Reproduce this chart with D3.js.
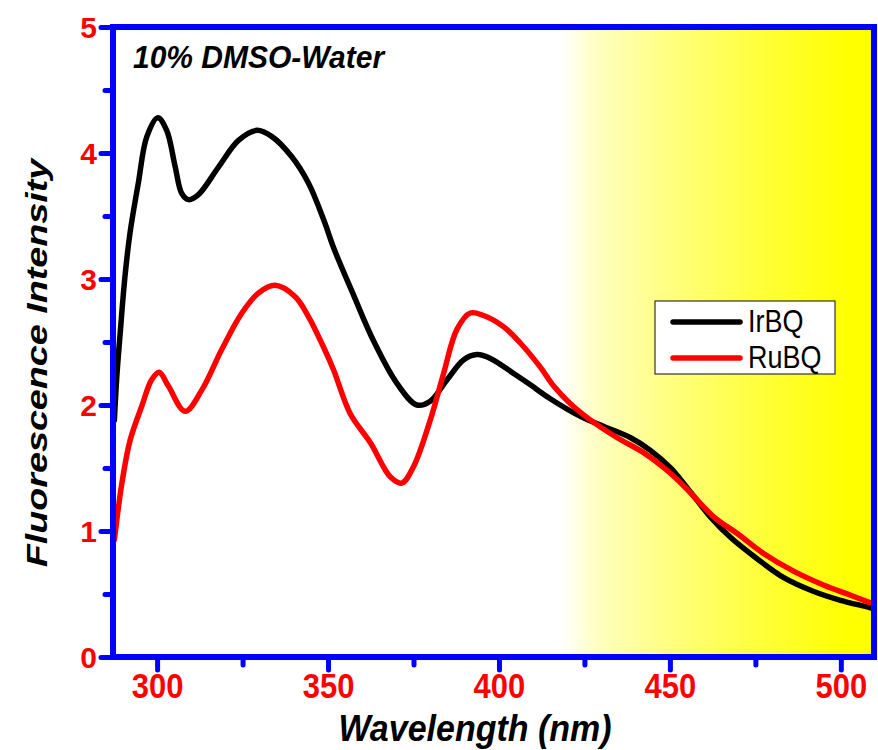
<!DOCTYPE html>
<html>
<head>
<meta charset="utf-8">
<script src="https://cdn.jsdelivr.net/npm/d3@7"></script>
<style>
  html, body { margin: 0; padding: 0; background: #fff; }
  svg { display: block; font-family: "Liberation Sans", Arial, sans-serif; }
</style>
</head>
<body>
<svg id="chart" width="878" height="750"></svg>
<script>
// Axis ranges and tick values
const wavelengthDomain = [287.1, 509.7];
const intensityDomain = [0, 5];
const xMajorTicks = [300, 350, 400, 450, 500];
const xMinorTicks = [325, 375, 425, 475];
const yMajorTicks = [0, 1, 2, 3, 4, 5];
const yMinorTicks = [0.5, 1.5, 2.5, 3.5, 4.5];

// Visible-region band (nm) shaded yellow
const shadedBand = [418, 509.7];

// IrBQ emission spectrum
const irbqWavelength = [287.5, 288.2, 289.2, 290.6, 292.1, 294.5, 297.0, 300.2, 302.8, 305.3,
  307.2, 309.2, 312.1, 318.0, 323.8, 329.2, 333.6, 339.4, 344.3, 349.0,
  351.6, 357.5, 363.3, 370.2, 376.0, 379.9, 384.8, 389.7, 393.6, 397.5,
  404.3, 409.2, 415.0, 423.8, 430.7, 438.5, 444.3, 450.2, 456.0, 461.9,
  467.7, 475.5, 483.3, 492.1, 499.9, 508.7, 509.7];
const irbqIntensity = [1.88, 2.22, 2.57, 3.02, 3.37, 3.76, 4.13, 4.28, 4.18, 3.89,
  3.68, 3.63, 3.67, 3.89, 4.10, 4.18, 4.13, 3.97, 3.76, 3.45,
  3.25, 2.87, 2.51, 2.17, 2.00, 2.03, 2.20, 2.36, 2.40, 2.37,
  2.25, 2.16, 2.05, 1.91, 1.83, 1.74, 1.64, 1.50, 1.31, 1.11,
  0.95, 0.78, 0.63, 0.52, 0.45, 0.39, 0.38];

// RuBQ emission spectrum
const rubqWavelength = [287.5, 289.7, 292.1, 295.5, 298.4, 300.6, 303.3, 308.2, 313.1, 318.9,
  324.8, 329.7, 334.5, 340.4, 344.3, 348.5, 351.6, 356.5, 362.4, 368.2,
  371.6, 375.0, 379.9, 383.8, 387.7, 391.6, 395.5, 401.4, 406.3, 412.1,
  416.0, 420.9, 426.8, 434.6, 442.4, 449.2, 455.1, 462.9, 469.7, 477.5,
  486.3, 495.1, 502.9, 508.7, 509.7];
const rubqIntensity = [0.93, 1.38, 1.72, 1.99, 2.20, 2.26, 2.15, 1.95, 2.12, 2.44,
  2.73, 2.89, 2.95, 2.86, 2.70, 2.47, 2.28, 1.93, 1.70, 1.43,
  1.38, 1.51, 1.88, 2.25, 2.60, 2.73, 2.71, 2.62, 2.49, 2.30,
  2.15, 2.01, 1.88, 1.74, 1.62, 1.48, 1.33, 1.11, 0.98, 0.82,
  0.68, 0.57, 0.49, 0.43, 0.42];

const seriesNames = ["IrBQ", "RuBQ"];
const seriesColors = ["#000000", "#ff0000"];

const W = 878, H = 750;
const margin = { top: 27, right: 4, bottom: 93, left: 113 };
const innerW = W - margin.left - margin.right;
const innerH = H - margin.top - margin.bottom;
const axisBlue = "#0000ff";
const font = "'Liberation Sans', Arial, sans-serif";

const svg = d3.select("#chart");
const g = svg.append("g").attr("transform", `translate(${margin.left},${margin.top})`);

const x = d3.scaleLinear().domain(wavelengthDomain).range([0, innerW]);
const y = d3.scaleLinear().domain(intensityDomain).range([innerH, 0]);

// Yellow gradient band
const defs = svg.append("defs");
const grad = defs.append("linearGradient").attr("id", "visBand")
  .attr("x1", "0%").attr("x2", "100%").attr("y1", "0%").attr("y2", "0%");
[[0, "#ffffff"], [0.12, "#ffffc0"], [0.35, "#ffff80"], [0.65, "#ffff38"], [0.92, "#ffff00"], [1, "#ffff00"]]
  .forEach(([o, c]) => grad.append("stop").attr("offset", o).attr("stop-color", c));

defs.append("clipPath").attr("id", "plotClip")
  .append("rect").attr("x", 0).attr("y", 0).attr("width", innerW).attr("height", innerH);

g.append("rect")
  .attr("x", x(shadedBand[0]))
  .attr("y", 0)
  .attr("width", x(shadedBand[1]) - x(shadedBand[0]))
  .attr("height", innerH)
  .attr("fill", "url(#visBand)");

// Spectra
const line = d3.line()
  .x(d => x(d[0]))
  .y(d => y(d[1]))
  .curve(d3.curveCatmullRom.alpha(0.5));

const series = [
  d3.zip(irbqWavelength, irbqIntensity),
  d3.zip(rubqWavelength, rubqIntensity)
];

const curves = g.append("g").attr("clip-path", "url(#plotClip)");
series.forEach((pts, i) => {
  curves.append("path")
    .datum(pts)
    .attr("d", line)
    .attr("fill", "none")
    .attr("stroke", seriesColors[i])
    .attr("stroke-width", 5.5)
    .attr("stroke-linejoin", "round")
    .attr("stroke-linecap", "round");
});

// Axes: ticks drawn with d3 axis generators
function styleAxis(sel) {
  sel.select(".domain").remove();
  sel.selectAll(".tick line")
    .attr("stroke", axisBlue)
    .attr("stroke-width", 5)
    .attr("stroke-linecap", "round");
}

const xMajor = g.append("g").attr("transform", `translate(0,${innerH})`)
  .call(d3.axisBottom(x).tickValues(xMajorTicks).tickSize(13).tickFormat(d3.format("d")));
styleAxis(xMajor);
xMajor.selectAll(".tick text")
  .attr("y", 0).attr("dy", 0)
  .attr("transform", "translate(0,41) scale(1,1.12)")
  .attr("fill", "#ff0000")
  .style("font-family", font)
  .style("font-size", "31px")
  .style("font-weight", "bold");

const xMinor = g.append("g").attr("transform", `translate(0,${innerH})`)
  .call(d3.axisBottom(x).tickValues(xMinorTicks).tickSize(8).tickFormat(""));
styleAxis(xMinor);

const yMajor = g.append("g")
  .call(d3.axisLeft(y).tickValues(yMajorTicks).tickSize(12).tickFormat(d3.format("d")));
styleAxis(yMajor);
yMajor.selectAll(".tick text")
  .attr("x", -16).attr("dy", "0.36em")
  .attr("fill", "#ff0000")
  .style("font-family", font)
  .style("font-size", "30px")
  .style("font-weight", "bold");

const yMinor = g.append("g")
  .call(d3.axisLeft(y).tickValues(yMinorTicks).tickSize(8).tickFormat(""));
styleAxis(yMinor);

// Frame
g.append("rect")
  .attr("x", 0).attr("y", 0)
  .attr("width", innerW).attr("height", innerH)
  .attr("fill", "none")
  .attr("stroke", axisBlue)
  .attr("stroke-width", 6);

// Axis titles
svg.append("text")
  .attr("transform", `translate(475,741) scale(1,1.1)`)
  .attr("text-anchor", "middle")
  .style("font-family", font)
  .style("font-size", "34px")
  .style("font-weight", "bold")
  .style("font-style", "italic")
  .text("Wavelength (nm)");

svg.append("text")
  .attr("transform", `translate(47,363) rotate(-90) scale(1.3,1)`)
  .attr("text-anchor", "middle")
  .style("font-family", font)
  .style("font-size", "29px")
  .style("font-weight", "bold")
  .style("font-style", "italic")
  .text("Fluorescence Intensity");

// Sample condition
svg.append("text")
  .attr("transform", "translate(133,68) scale(1,1.05)")
  .style("font-family", font)
  .style("font-size", "30px")
  .style("font-weight", "bold")
  .style("font-style", "italic")
  .text("10% DMSO-Water");

// Legend
const legend = svg.append("g").attr("transform", "translate(655,301)");
legend.append("rect")
  .attr("width", 180).attr("height", 73)
  .attr("fill", "#ffffff")
  .attr("stroke", "#333333")
  .attr("stroke-width", 1.2);
seriesNames.forEach((name, i) => {
  const cy = 21 + i * 36;
  legend.append("line")
    .attr("x1", 18).attr("x2", 85)
    .attr("y1", cy).attr("y2", cy)
    .attr("stroke", seriesColors[i])
    .attr("stroke-width", 5.5)
    .attr("stroke-linecap", "round");
  legend.append("text")
    .attr("transform", `translate(93,${cy + 10}) scale(1,1.15)`)
    .style("font-family", font)
    .style("font-size", "27px")
    .text(name);
});
</script>
</body>
</html>
